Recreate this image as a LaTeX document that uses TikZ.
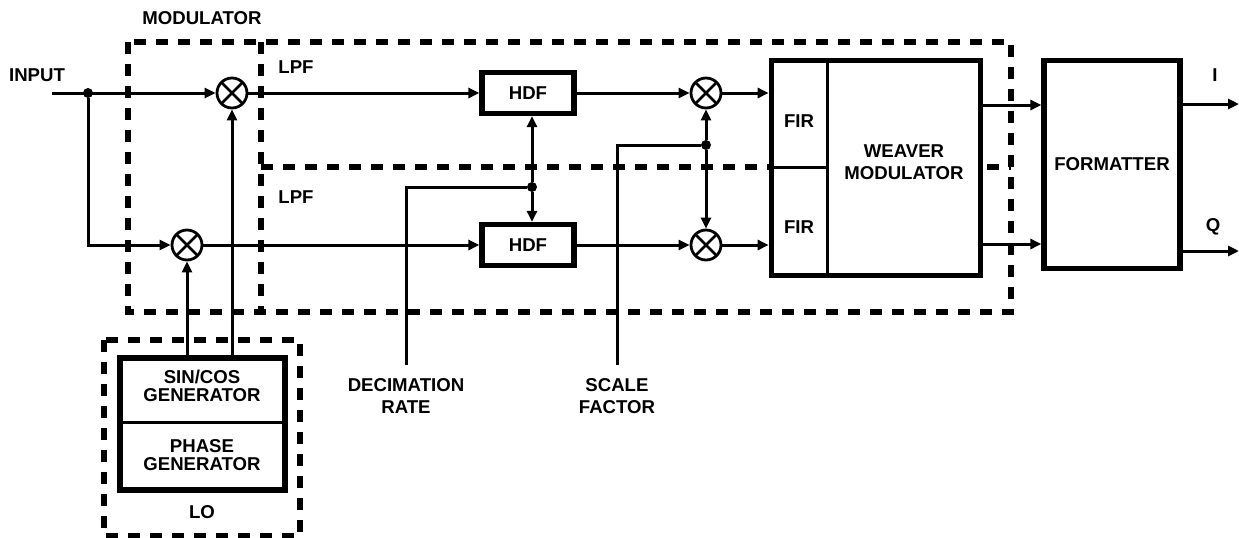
\documentclass[tikz,border=0pt]{standalone}
\usepackage{fontspec}
\setmainfont{Liberation Sans}
\usetikzlibrary{arrows.meta, positioning, calc}

\begin{document}
\begin{tikzpicture}[
    x=0.5pt, y=-0.5pt,
    font=\fontsize{9.3}{11}\selectfont\bfseries,
    sig/.style={line width=1.5pt},
    arr/.style={sig, -{Triangle[length=5.5pt, width=5pt]}},
    grp/.style={line width=2.8pt, dash pattern=on 6pt off 5pt},
    blk/.style={rectangle, draw, line width=2.6pt, fill=white, inner sep=0pt},
    mix/.style={circle, draw, line width=1.4pt, fill=white, minimum size=15pt, inner sep=0pt, path picture={
        \draw[line width=1.4pt] (path picture bounding box.north west) -- (path picture bounding box.south east);
        \draw[line width=1.4pt] (path picture bounding box.south west) -- (path picture bounding box.north east);
    }},
    dot/.style={circle, fill, inner sep=0pt, minimum size=5pt},
    lbl/.style={align=center},
    genlbl/.style={align=center, font=\fontsize{9.3}{9}\selectfont\bfseries}
]
\useasboundingbox (0,0) rectangle (1239,537);

% -- GROUP FRAMES --
\draw[grp] (128,42) rectangle (1011,312);
\draw[grp] (261,42) -- (261,312);
\draw[grp] (261,167) -- (1011,167);
\draw[grp] (104,340) rectangle (300,536);
\node (modLbl) at (202,18) {MODULATOR};
\node (lpfA) at (296,67) {LPF};
\node (lpfB) at (296,197) {LPF};

% -- INPUT AND MIXERS --
\node (inLbl) at (37,75) {INPUT};
\coordinate (inL) at (52,93);
\node[dot] (inDot) at (88,93) {};
\node[mix] (mixA) at (232,93) {};
\node[mix] (mixB) at (187,245) {};

\draw[arr] (inL) -- (mixA);
\draw[arr] (inDot) |- (mixB);

% -- LO --
\node[blk, minimum width=82.5pt, minimum height=66pt] (gen) at (202.5,424) {};
\draw[sig] (gen.west |- 0,422) -- (gen.east |- 0,422);
\node[genlbl] (sincos) at (202,386) {SIN/COS\\GENERATOR};
\node[genlbl] (phase) at (202,455) {PHASE\\GENERATOR};
\node (loLbl) at (202,512) {LO};

\draw[arr] (mixB |- gen.north) -- (mixB);
\draw[arr] (mixA |- gen.north) -- (mixA);

% -- HDF --
\node[blk, minimum width=46pt, minimum height=20.5pt] (hdfA) at (528,93) {HDF};
\node[blk, minimum width=46pt, minimum height=20.5pt] (hdfB) at (528,245) {HDF};
\node[mix] (mixC) at (706,93) {};
\node[mix] (mixD) at (706,245) {};

\draw[arr] (mixA) -- (hdfA);
\draw[arr] (mixB) -- (hdfB);
\draw[arr] (hdfA) -- (mixC);
\draw[arr] (hdfB) -- (mixD);

% decimation rate
\coordinate (decEnd) at (406,365);
\node[dot] (decDot) at (532,187) {};
\node[lbl] (decLbl) at (406,396) {DECIMATION\\RATE};
\draw[sig] (decEnd) |- (decDot);
\draw[arr] (decDot) -- (decDot |- hdfA.south);
\draw[arr] (decDot) -- (decDot |- hdfB.north);

% scale factor
\coordinate (sclEnd) at (617,365);
\node[dot] (sclDot) at (706,145) {};
\node[lbl] (sclLbl) at (617,396) {SCALE\\FACTOR};
\draw[sig] (sclEnd) |- (sclDot);
\draw[arr] (sclDot) -- (mixC);
\draw[arr] (sclDot) -- (mixD);

% -- WEAVER --
\node[blk, minimum width=104.75pt, minimum height=107.25pt] (weaver) at (876,168) {};
\coordinate (firR) at (827,167);
\draw[sig] (firR |- weaver.north) -- (firR |- weaver.south);
\draw[sig] (weaver.west |- firR) -- (firR);
\node (firA) at (799,121) {FIR};
\node (firB) at (799,227) {FIR};
\node[lbl] (wvLbl) at (904,162) {WEAVER\\MODULATOR};

\draw[arr] (mixC) -- (mixC -| weaver.west);
\draw[arr] (mixD) -- (mixD -| weaver.west);

% -- FORMATTER --
\node[blk, minimum width=68pt, minimum height=104pt] (fmt) at (1112,164.5) {FORMATTER};
\coordinate (rowI) at (0,105);
\coordinate (rowQ) at (0,244);
\draw[arr] (weaver.east |- rowI) -- (fmt.west |- rowI);
\draw[arr] (weaver.east |- rowQ) -- (fmt.west |- rowQ);

\coordinate (outI) at (1239,104);
\coordinate (outQ) at (1239,251);
\draw[arr] (fmt.east |- outI) -- (outI);
\draw[arr] (fmt.east |- outQ) -- (outQ);
\node (lblI) at (1215,75) {I};
\node (lblQ) at (1213,227) {Q};

\end{tikzpicture}
\end{document}
